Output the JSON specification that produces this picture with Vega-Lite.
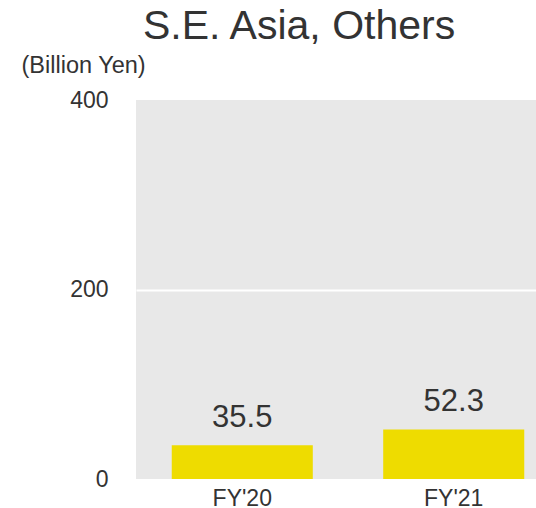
{
  "$schema": "https://vega.github.io/schema/vega-lite/v6.json",
  "autosize": "none",
  "width": 400,
  "height": 379,
  "padding": {"left": 136, "top": 100, "right": 0, "bottom": 29},
  "background": "white",
  "config": {
    "font": "Liberation Sans",
    "view": {"fill": "#E8E8E8", "stroke": null}
  },
  "title": {
    "text": "S.E. Asia, Others",
    "fontSize": 41,
    "fontWeight": "normal",
    "color": "#333333",
    "anchor": "start",
    "frame": "group",
    "dx": 7,
    "dy": 43,
    "baseline": "alphabetic",
    "offset": 16
  },
  "data": {
    "values": [
      {"year": "FY'20", "value": 35.5},
      {"year": "FY'21", "value": 52.3}
    ]
  },
  "encoding": {
    "x": {
      "field": "year",
      "type": "nominal",
      "sort": null,
      "scale": {"range": [0, 424], "paddingInner": 0.333, "paddingOuter": 0.169},
      "axis": {
        "title": null,
        "labelAngle": 0,
        "labelFontSize": 23,
        "labelColor": "#333333",
        "labelPadding": 8,
        "ticks": false,
        "domain": false,
        "grid": false
      }
    },
    "y": {
      "field": "value",
      "type": "quantitative",
      "scale": {"domain": [0, 400], "nice": false},
      "axis": {
        "values": [0, 200, 400],
        "title": "(Billion Yen)",
        "titleAngle": 0,
        "titleAlign": "left",
        "titleBaseline": "alphabetic",
        "titleX": -115,
        "titleY": -28,
        "titleFontSize": 23.5,
        "titleFontWeight": "normal",
        "titleColor": "#333333",
        "labelFontSize": 23,
        "labelColor": "#333333",
        "labelPadding": 28,
        "ticks": false,
        "domain": false,
        "grid": true,
        "gridColor": "white",
        "gridWidth": 2,
        "gridOpacity": {"condition": {"test": "datum.value === 200", "value": 1}, "value": 0}
      }
    }
  },
  "layer": [
    {"mark": {"type": "bar", "color": "#EEDC00"}},
    {
      "mark": {"type": "text", "fontSize": 31, "color": "#333333", "baseline": "alphabetic", "dy": -18},
      "encoding": {"text": {"field": "value", "type": "quantitative", "format": ".1f"}}
    }
  ]
}
